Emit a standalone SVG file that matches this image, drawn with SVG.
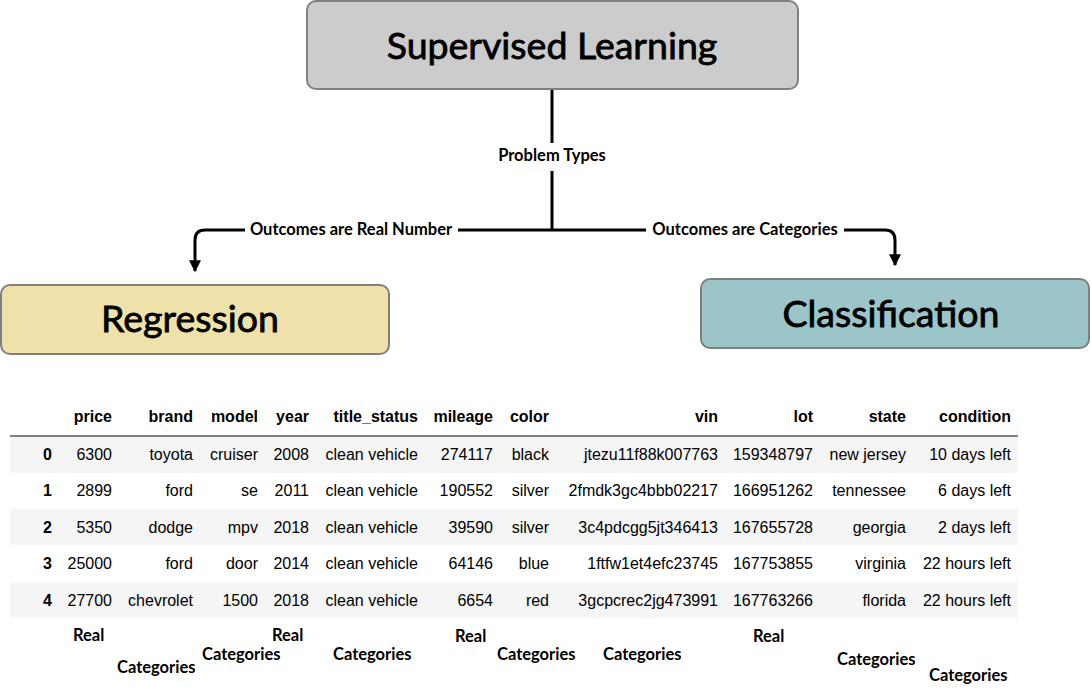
<svg xmlns="http://www.w3.org/2000/svg" width="1091" height="693" viewBox="0 0 1091 693">
<defs>
<style>
.box{stroke:#808080;stroke-width:2}
.title{font-family:Lato,"Noto Sans",sans-serif;font-size:37.5px;fill:#000;stroke:#000;stroke-width:0.8;text-anchor:middle}
.lbl{font-family:Lato,"Noto Sans",sans-serif;font-size:16.5px;fill:#000;font-weight:bold}
.conn{fill:none;stroke:#000;stroke-width:3}
.th{font-family:"Liberation Sans",Arial,sans-serif;font-size:16px;font-weight:bold;fill:#000;text-anchor:end}
.td{font-family:"Liberation Sans",Arial,sans-serif;font-size:16px;fill:#000;text-anchor:end}
.idx{font-weight:bold}
.band{fill:#f5f5f5}
</style>
<marker id="arr" viewBox="0 0 10 10" refX="9" refY="5" markerWidth="4" markerHeight="4" orient="auto" markerUnits="strokeWidth">
<path d="M0,0 L10,5 L0,10 z" fill="#000"/>
</marker>
</defs>

<g id="connectors">
<line class="conn" x1="552" y1="89" x2="552" y2="143"/>
<path class="conn" d="M552,171 L552,230"/>
<path class="conn" d="M552,230 L458,230 M245,230 L205,230 Q195,230 195,240 L195,271" marker-end="url(#arr)"/>
<path class="conn" d="M552,230 L646,230 M844,230 L885,230 Q895,230 895,240 L895,265" marker-end="url(#arr)"/>
<text class="lbl" x="552" y="161" text-anchor="middle">Problem Types</text>
<text class="lbl" x="351" y="235" text-anchor="middle">Outcomes are Real Number</text>
<text class="lbl" x="745" y="235" text-anchor="middle">Outcomes are Categories</text>
</g>

<g id="supervised">
<rect class="box" x="307" y="1" width="491" height="88" rx="9" fill="#cccccc"/>
<text class="title" x="552" y="59">Supervised Learning</text>
</g>
<g id="regression">
<rect class="box" x="1" y="285" width="388" height="69" rx="9" fill="#eee2aa"/>
<text class="title" x="190" y="332">Regression</text>
</g>
<g id="classification">
<rect class="box" x="701" y="279" width="388" height="69" rx="9" fill="#9bc5c8"/>
<text class="title" x="891" y="327">Classification</text>
</g>

<g id="table">
<rect class="band" x="10" y="437" width="1008" height="36"/>
<rect class="band" x="10" y="509" width="1008" height="36"/>
<rect class="band" x="10" y="582" width="1008" height="36"/>
<line x1="10" y1="436" x2="1018" y2="436" stroke="#000" stroke-width="1"/>
<g class="th">
<text x="112" y="422">price</text>
<text x="193" y="422">brand</text>
<text x="258" y="422">model</text>
<text x="309" y="422">year</text>
<text x="418" y="422">title_status</text>
<text x="493" y="422">mileage</text>
<text x="549" y="422">color</text>
<text x="718" y="422">vin</text>
<text x="813" y="422">lot</text>
<text x="906" y="422">state</text>
<text x="1011" y="422">condition</text>
</g>
<g class="td">
<text class="idx" x="52" y="460">0</text><text x="112" y="460">6300</text><text x="193" y="460">toyota</text><text x="258" y="460">cruiser</text><text x="309" y="460">2008</text><text x="418" y="460">clean vehicle</text><text x="493" y="460">274117</text><text x="549" y="460">black</text><text x="718" y="460">jtezu11f88k007763</text><text x="813" y="460">159348797</text><text x="906" y="460">new jersey</text><text x="1011" y="460">10 days left</text>
<text class="idx" x="52" y="496">1</text><text x="112" y="496">2899</text><text x="193" y="496">ford</text><text x="258" y="496">se</text><text x="309" y="496">2011</text><text x="418" y="496">clean vehicle</text><text x="493" y="496">190552</text><text x="549" y="496">silver</text><text x="718" y="496">2fmdk3gc4bbb02217</text><text x="813" y="496">166951262</text><text x="906" y="496">tennessee</text><text x="1011" y="496">6 days left</text>
<text class="idx" x="52" y="533">2</text><text x="112" y="533">5350</text><text x="193" y="533">dodge</text><text x="258" y="533">mpv</text><text x="309" y="533">2018</text><text x="418" y="533">clean vehicle</text><text x="493" y="533">39590</text><text x="549" y="533">silver</text><text x="718" y="533">3c4pdcgg5jt346413</text><text x="813" y="533">167655728</text><text x="906" y="533">georgia</text><text x="1011" y="533">2 days left</text>
<text class="idx" x="52" y="569">3</text><text x="112" y="569">25000</text><text x="193" y="569">ford</text><text x="258" y="569">door</text><text x="309" y="569">2014</text><text x="418" y="569">clean vehicle</text><text x="493" y="569">64146</text><text x="549" y="569">blue</text><text x="718" y="569">1ftfw1et4efc23745</text><text x="813" y="569">167753855</text><text x="906" y="569">virginia</text><text x="1011" y="569">22 hours left</text>
<text class="idx" x="52" y="606">4</text><text x="112" y="606">27700</text><text x="193" y="606">chevrolet</text><text x="258" y="606">1500</text><text x="309" y="606">2018</text><text x="418" y="606">clean vehicle</text><text x="493" y="606">6654</text><text x="549" y="606">red</text><text x="718" y="606">3gcpcrec2jg473991</text><text x="813" y="606">167763266</text><text x="906" y="606">florida</text><text x="1011" y="606">22 hours left</text>
</g>
</g>

<g id="types" class="lbl">
<text x="73" y="641">Real</text>
<text x="117" y="673">Categories</text>
<text x="202" y="660">Categories</text>
<text x="272" y="641">Real</text>
<text x="333" y="660">Categories</text>
<text x="455" y="642">Real</text>
<text x="497" y="660">Categories</text>
<text x="603" y="660">Categories</text>
<text x="753" y="642">Real</text>
<text x="837" y="665">Categories</text>
<text x="929" y="681">Categories</text>
</g>
</svg>
